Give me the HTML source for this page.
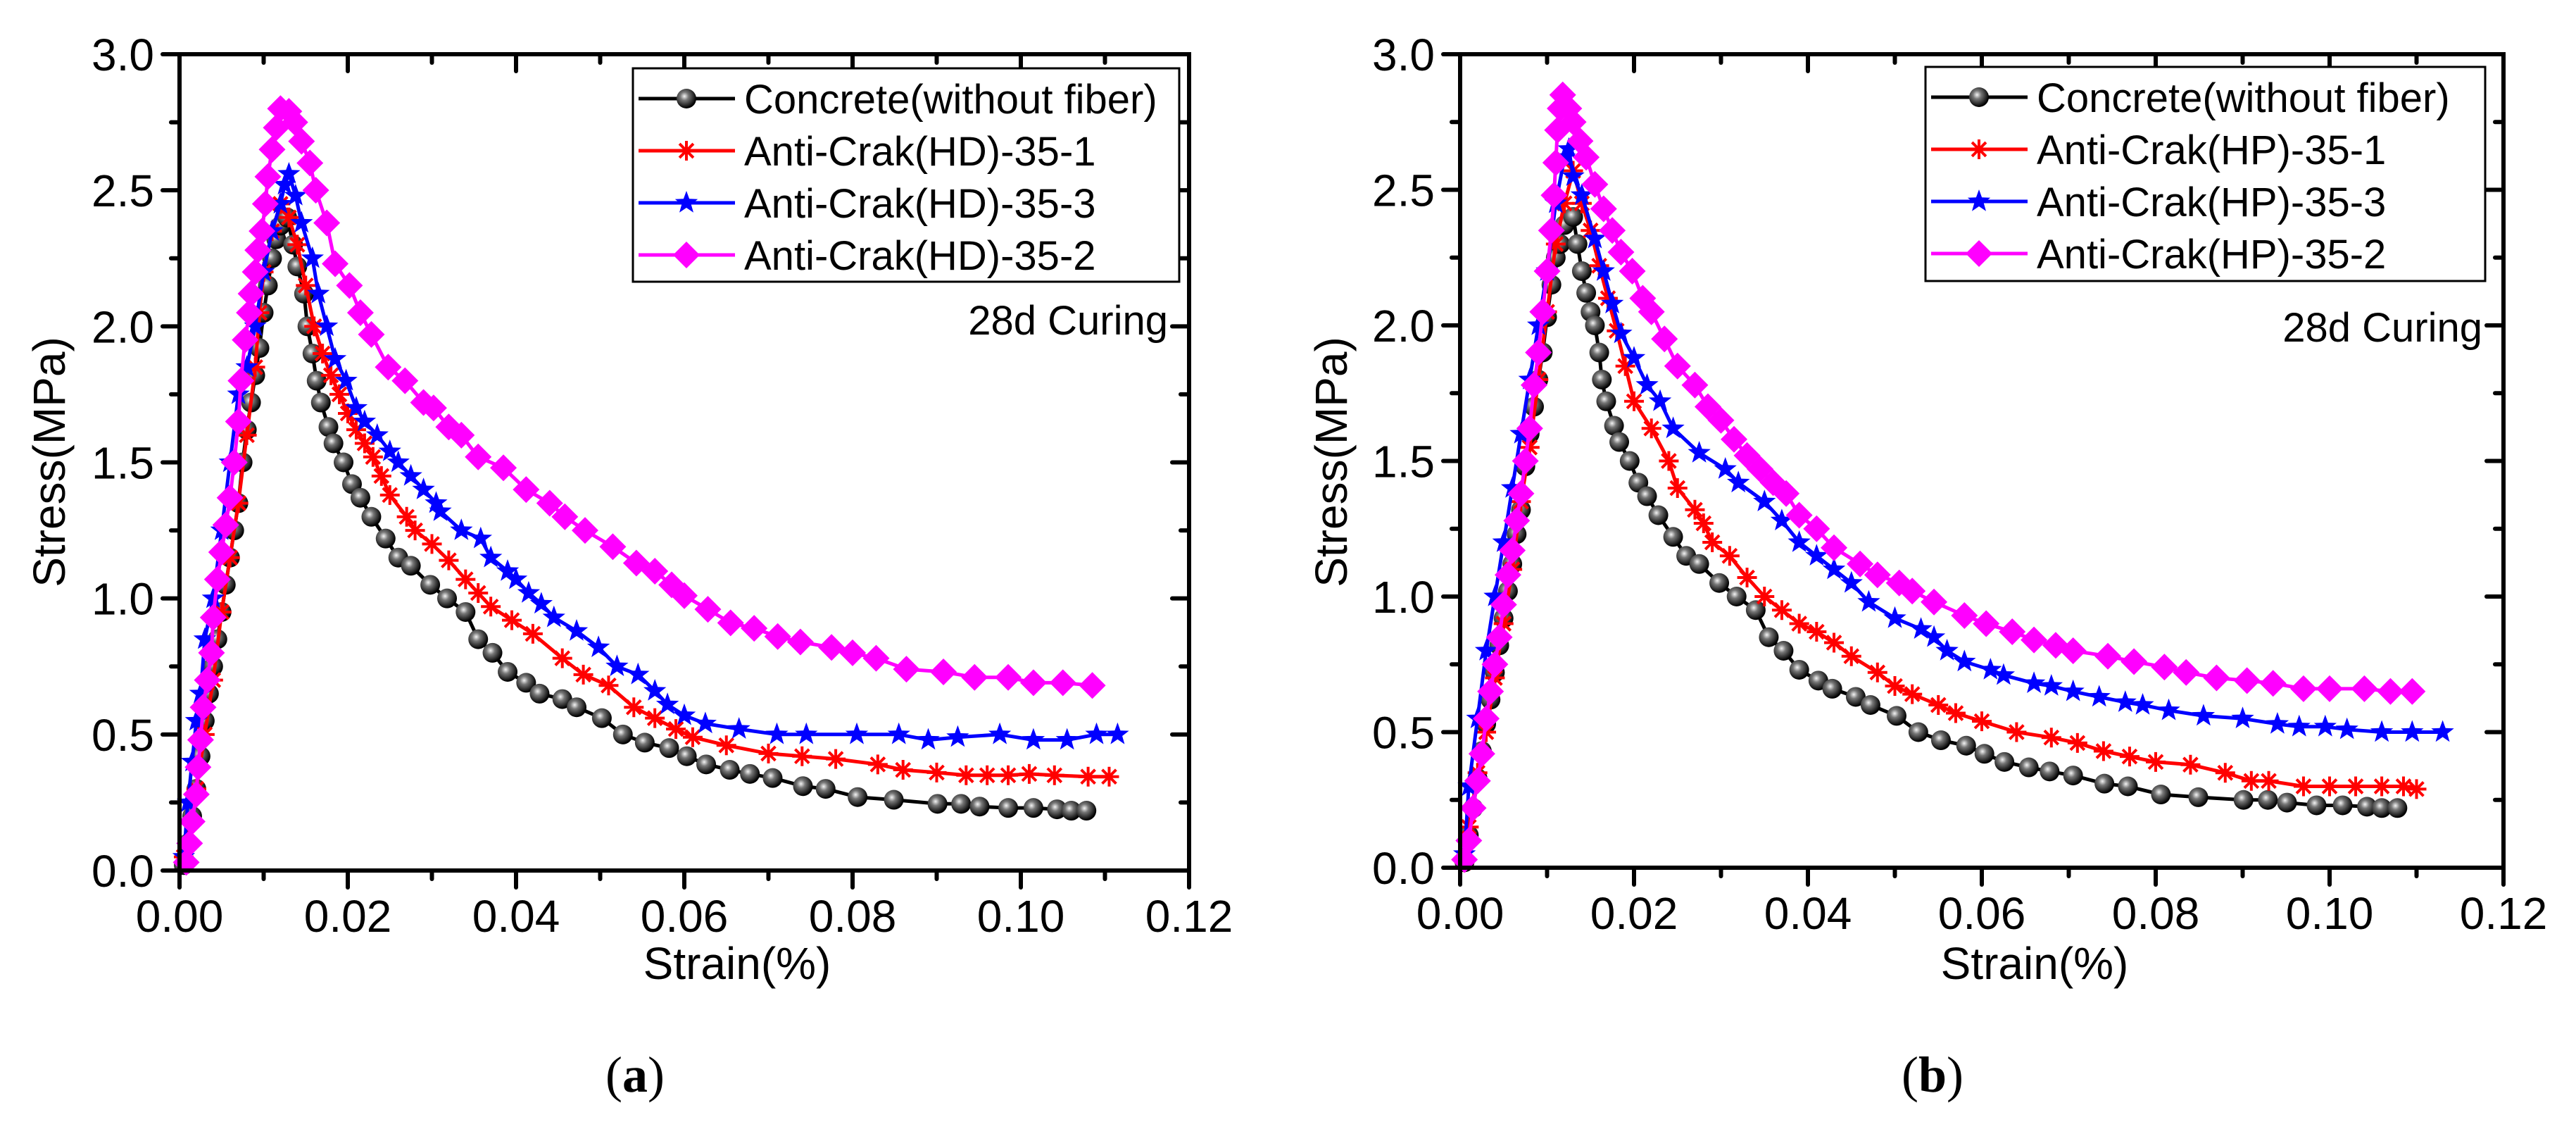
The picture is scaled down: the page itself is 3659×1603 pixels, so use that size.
<!DOCTYPE html>
<html><head><meta charset="utf-8"><style>
html,body{margin:0;padding:0;background:#fff;}
svg{display:block;font-family:"Liberation Sans",sans-serif;}
</style></head><body>
<svg id="fig" width="3659" height="1603" viewBox="0 0 3659 1603" xmlns="http://www.w3.org/2000/svg">
<defs>
<radialGradient id="sph" cx="0.4" cy="0.38" r="0.6">
<stop offset="0" stop-color="#f4f4f4"/><stop offset="0.35" stop-color="#777"/><stop offset="1" stop-color="#000"/>
</radialGradient>
</defs>
<g id="pa"></g>
<g id="pb"></g>
</svg>
<script>
const xTicks=[0,0.02,0.04,0.06,0.08,0.10,0.12];
const xTickLabels=["0.00","0.02","0.04","0.06","0.08","0.10","0.12"];
const yTicks=[0,0.5,1.0,1.5,2.0,2.5,3.0];
const yTickLabels=["0.0","0.5","1.0","1.5","2.0","2.5","3.0"];

const aConcrete=[[0.0005,0.02],[0.001,0.1],[0.0015,0.2],[0.002,0.3],[0.0025,0.42],[0.003,0.55],[0.0035,0.65],[0.004,0.75],[0.0045,0.85],[0.005,0.95],[0.0055,1.05],[0.006,1.15],[0.0065,1.25],[0.007,1.35],[0.0075,1.5],[0.008,1.62],[0.0085,1.72],[0.009,1.82],[0.0095,1.92],[0.01,2.05],[0.0105,2.15],[0.011,2.25],[0.0115,2.32],[0.012,2.37],[0.0128,2.4],[0.0135,2.3],[0.014,2.22],[0.0148,2.12],[0.0152,2.0],[0.0158,1.9],[0.0163,1.8],[0.0168,1.72],[0.0177,1.63],[0.0183,1.57],[0.0195,1.5],[0.0205,1.42],[0.0215,1.37],[0.0228,1.3],[0.0245,1.22],[0.026,1.15],[0.0275,1.12],[0.0298,1.05],[0.0318,1.0],[0.034,0.95],[0.0355,0.85],[0.0372,0.8],[0.039,0.73],[0.0412,0.69],[0.0428,0.65],[0.0455,0.63],[0.0472,0.6],[0.0502,0.56],[0.0527,0.5],[0.0553,0.47],[0.0582,0.45],[0.0603,0.42],[0.0626,0.39],[0.0654,0.37],[0.0678,0.355],[0.0705,0.34],[0.0741,0.31],[0.0768,0.3],[0.0806,0.27],[0.0849,0.26],[0.0901,0.245],[0.0929,0.245],[0.0951,0.235],[0.0985,0.23],[0.1015,0.23],[0.1043,0.225],[0.106,0.22],[0.1078,0.22]];
const aHD1=[[0.0005,0.05],[0.002,0.3],[0.003,0.5],[0.004,0.7],[0.005,0.95],[0.006,1.15],[0.007,1.35],[0.008,1.6],[0.009,1.85],[0.0095,2.05],[0.01,2.2],[0.011,2.35],[0.012,2.45],[0.013,2.4],[0.014,2.3],[0.015,2.15],[0.016,2.0],[0.017,1.9],[0.018,1.82],[0.019,1.75],[0.02,1.68],[0.021,1.62],[0.022,1.57],[0.023,1.52],[0.024,1.45],[0.025,1.38],[0.027,1.3],[0.028,1.25],[0.03,1.2],[0.032,1.14],[0.034,1.07],[0.0355,1.02],[0.037,0.97],[0.0395,0.92],[0.042,0.87],[0.0455,0.78],[0.048,0.72],[0.051,0.68],[0.054,0.6],[0.0565,0.56],[0.059,0.52],[0.061,0.49],[0.065,0.46],[0.07,0.43],[0.074,0.42],[0.078,0.41],[0.083,0.39],[0.086,0.37],[0.09,0.36],[0.0935,0.35],[0.096,0.35],[0.0985,0.35],[0.101,0.355],[0.104,0.35],[0.108,0.345],[0.1105,0.345]];
const aHD3=[[0.0005,0.05],[0.001,0.25],[0.0015,0.4],[0.002,0.55],[0.0025,0.65],[0.003,0.85],[0.004,1.0],[0.005,1.25],[0.006,1.5],[0.007,1.75],[0.008,1.85],[0.009,2.0],[0.01,2.2],[0.011,2.35],[0.012,2.45],[0.0125,2.52],[0.013,2.56],[0.0138,2.48],[0.0145,2.38],[0.0158,2.25],[0.0165,2.12],[0.0175,2.0],[0.0185,1.88],[0.0198,1.8],[0.021,1.7],[0.022,1.65],[0.0235,1.6],[0.025,1.54],[0.026,1.5],[0.0275,1.45],[0.029,1.4],[0.0305,1.35],[0.031,1.32],[0.0335,1.25],[0.0358,1.22],[0.037,1.15],[0.039,1.1],[0.04,1.07],[0.0415,1.02],[0.043,0.98],[0.0445,0.93],[0.0472,0.88],[0.0498,0.82],[0.052,0.75],[0.0545,0.72],[0.0565,0.66],[0.058,0.61],[0.06,0.57],[0.0625,0.54],[0.0665,0.52],[0.071,0.5],[0.0745,0.5],[0.0805,0.5],[0.0855,0.5],[0.089,0.48],[0.0925,0.49],[0.0975,0.5],[0.1015,0.48],[0.1055,0.48],[0.109,0.5],[0.1115,0.5]];
const aHD2=[[0.0008,0.03],[0.0012,0.1],[0.0015,0.18],[0.002,0.28],[0.0022,0.38],[0.0025,0.48],[0.0028,0.6],[0.0033,0.7],[0.0038,0.8],[0.004,0.93],[0.0045,1.07],[0.005,1.17],[0.0055,1.27],[0.006,1.37],[0.0065,1.5],[0.007,1.65],[0.0073,1.8],[0.0078,1.95],[0.0083,2.05],[0.0085,2.12],[0.009,2.2],[0.0093,2.28],[0.0098,2.35],[0.0102,2.45],[0.0105,2.55],[0.011,2.65],[0.0115,2.73],[0.012,2.8],[0.013,2.79],[0.0137,2.75],[0.0145,2.68],[0.0155,2.6],[0.0162,2.5],[0.0175,2.38],[0.0185,2.23],[0.0202,2.15],[0.0215,2.05],[0.0228,1.97],[0.0248,1.85],[0.0268,1.8],[0.029,1.72],[0.0302,1.7],[0.032,1.63],[0.0335,1.6],[0.0355,1.52],[0.0385,1.48],[0.0412,1.4],[0.044,1.35],[0.0458,1.3],[0.0482,1.25],[0.0515,1.19],[0.0543,1.13],[0.0565,1.1],[0.0585,1.05],[0.06,1.01],[0.0628,0.96],[0.0655,0.91],[0.0683,0.89],[0.0711,0.86],[0.0738,0.84],[0.0775,0.82],[0.08,0.8],[0.0828,0.78],[0.0864,0.74],[0.0908,0.73],[0.0945,0.71],[0.0985,0.71],[0.1015,0.69],[0.105,0.69],[0.1085,0.68]];

const bConcrete=[[0.0005,0.02],[0.001,0.12],[0.0015,0.22],[0.002,0.33],[0.0025,0.43],[0.003,0.53],[0.0035,0.62],[0.004,0.72],[0.0045,0.82],[0.005,0.92],[0.0055,1.02],[0.006,1.12],[0.0065,1.23],[0.007,1.32],[0.0075,1.48],[0.008,1.6],[0.0085,1.7],[0.009,1.8],[0.0095,1.9],[0.01,2.03],[0.0105,2.15],[0.011,2.25],[0.0115,2.3],[0.012,2.37],[0.013,2.4],[0.0135,2.3],[0.014,2.2],[0.0145,2.12],[0.015,2.05],[0.0155,2.0],[0.016,1.9],[0.0163,1.8],[0.0168,1.72],[0.0177,1.63],[0.0183,1.57],[0.0195,1.5],[0.0205,1.42],[0.0215,1.37],[0.0228,1.3],[0.0245,1.22],[0.026,1.15],[0.0275,1.12],[0.0298,1.05],[0.0318,1.0],[0.034,0.95],[0.0355,0.85],[0.0372,0.8],[0.039,0.73],[0.0412,0.69],[0.0428,0.66],[0.0455,0.63],[0.0472,0.6],[0.0502,0.56],[0.0527,0.5],[0.0553,0.47],[0.0582,0.45],[0.0603,0.42],[0.0626,0.39],[0.0654,0.37],[0.0678,0.355],[0.0705,0.34],[0.0741,0.31],[0.0768,0.3],[0.0806,0.27],[0.0849,0.26],[0.0901,0.25],[0.0929,0.25],[0.0951,0.24],[0.0985,0.23],[0.1015,0.23],[0.1043,0.225],[0.106,0.22],[0.1078,0.22]];
const bHP1=[[0.0005,0.02],[0.001,0.15],[0.002,0.35],[0.003,0.5],[0.004,0.7],[0.005,0.9],[0.006,1.1],[0.007,1.35],[0.008,1.55],[0.009,1.8],[0.01,2.05],[0.011,2.3],[0.012,2.45],[0.013,2.57],[0.014,2.45],[0.015,2.35],[0.016,2.22],[0.017,2.1],[0.018,1.98],[0.019,1.85],[0.02,1.72],[0.022,1.62],[0.024,1.5],[0.025,1.4],[0.027,1.32],[0.028,1.27],[0.029,1.2],[0.031,1.15],[0.033,1.07],[0.035,1.0],[0.037,0.95],[0.039,0.9],[0.041,0.87],[0.043,0.83],[0.045,0.78],[0.048,0.72],[0.05,0.67],[0.052,0.64],[0.055,0.6],[0.057,0.57],[0.06,0.54],[0.064,0.5],[0.068,0.48],[0.071,0.46],[0.074,0.43],[0.077,0.41],[0.08,0.39],[0.084,0.38],[0.088,0.35],[0.091,0.32],[0.093,0.32],[0.097,0.3],[0.1,0.3],[0.103,0.3],[0.106,0.3],[0.1085,0.3],[0.11,0.29]];
const bHP3=[[0.0005,0.05],[0.001,0.3],[0.002,0.55],[0.003,0.8],[0.004,1.0],[0.005,1.2],[0.006,1.4],[0.007,1.6],[0.008,1.8],[0.009,2.0],[0.01,2.2],[0.011,2.45],[0.012,2.62],[0.0125,2.65],[0.013,2.55],[0.014,2.48],[0.0155,2.32],[0.0165,2.2],[0.0175,2.08],[0.0185,1.97],[0.02,1.88],[0.0215,1.78],[0.023,1.72],[0.0245,1.62],[0.0275,1.53],[0.0305,1.47],[0.032,1.42],[0.035,1.35],[0.037,1.28],[0.039,1.2],[0.041,1.15],[0.043,1.1],[0.045,1.05],[0.047,0.98],[0.05,0.92],[0.053,0.88],[0.0545,0.85],[0.056,0.8],[0.058,0.76],[0.061,0.73],[0.0625,0.71],[0.066,0.68],[0.068,0.67],[0.0705,0.65],[0.0735,0.63],[0.0765,0.61],[0.0785,0.6],[0.0815,0.58],[0.0855,0.56],[0.09,0.55],[0.094,0.53],[0.0965,0.52],[0.0995,0.52],[0.102,0.51],[0.106,0.5],[0.1095,0.5],[0.113,0.5]];
const bHP2=[[0.0005,0.03],[0.001,0.1],[0.0015,0.22],[0.002,0.32],[0.0025,0.42],[0.003,0.55],[0.0035,0.65],[0.004,0.75],[0.0045,0.85],[0.005,0.97],[0.0055,1.08],[0.006,1.17],[0.0065,1.28],[0.007,1.38],[0.0075,1.5],[0.008,1.62],[0.0085,1.78],[0.009,1.9],[0.0095,2.05],[0.01,2.2],[0.0105,2.35],[0.0108,2.48],[0.011,2.6],[0.0112,2.72],[0.0115,2.8],[0.0118,2.85],[0.0125,2.8],[0.013,2.75],[0.0138,2.68],[0.0145,2.62],[0.0155,2.52],[0.0165,2.43],[0.0175,2.35],[0.0185,2.27],[0.0198,2.2],[0.021,2.1],[0.022,2.05],[0.0235,1.95],[0.025,1.85],[0.027,1.78],[0.0285,1.7],[0.03,1.65],[0.0315,1.58],[0.033,1.52],[0.0345,1.47],[0.036,1.42],[0.0375,1.38],[0.039,1.3],[0.041,1.25],[0.043,1.18],[0.046,1.12],[0.048,1.08],[0.0505,1.05],[0.052,1.02],[0.0545,0.98],[0.058,0.93],[0.0605,0.9],[0.0635,0.87],[0.066,0.84],[0.0685,0.82],[0.0705,0.8],[0.0745,0.78],[0.0775,0.76],[0.081,0.74],[0.0835,0.72],[0.087,0.7],[0.0905,0.69],[0.0935,0.68],[0.097,0.66],[0.1,0.66],[0.104,0.66],[0.107,0.65],[0.1095,0.65]];

const aNames=["Concrete(without fiber)","Anti-Crak(HD)-35-1","Anti-Crak(HD)-35-3","Anti-Crak(HD)-35-2"];
const bNames=["Concrete(without fiber)","Anti-Crak(HP)-35-1","Anti-Crak(HP)-35-3","Anti-Crak(HP)-35-2"];

const NS="http://www.w3.org/2000/svg";
function mk(tag,attrs,parent){const e=document.createElementNS(NS,tag);for(const k in attrs)e.setAttribute(k,attrs[k]);parent.appendChild(e);return e;}

function marker(g,kind,cx,cy,sc){
  let e;
  if(kind==="sphere"){e=mk("circle",{cx:cx,cy:cy,r:14*sc,fill:"url(#sph)"},g);}
  else if(kind==="asterisk"){const r=14*sc;let d="";for(let i=0;i<4;i++){const a=i*Math.PI/4;d+=`M${cx-r*Math.cos(a)},${cy-r*Math.sin(a)}L${cx+r*Math.cos(a)},${cy+r*Math.sin(a)}`;}
    e=mk("path",{d:d,stroke:"#ff0000","stroke-width":4,fill:"none"},g);}
  else if(kind==="star"){const R=17*sc,r=7*sc;let p=[];for(let i=0;i<10;i++){const a=-Math.PI/2+i*Math.PI/5;const rr=i%2?r:R;p.push((cx+rr*Math.cos(a)).toFixed(1)+","+(cy+rr*Math.sin(a)).toFixed(1));}
    e=mk("polygon",{points:p.join(" "),fill:"#0000ff"},g);}
  else {const r=19*sc;e=mk("polygon",{points:`${cx},${cy-r} ${cx+r},${cy} ${cx},${cy+r} ${cx-r},${cy}`,fill:"#ff00ff"},g);}
  return e;
}

function drawPanel(gid,P,seriesList,names,tag){
  const g=document.getElementById(gid);
  const X=v=>P.x0+(v-0)/(0.12-0)*(P.x1-P.x0);
  const Y=v=>P.y0-(v/3.0)*(P.y0-P.y1);
  const kinds=["sphere","asterisk","star","diamond"];
  const colors=["#000000","#ff0000","#0000ff","#ff00ff"];
  [0,1,2,3].forEach(i=>{
    const s=seriesList[i];
    const sg=mk("g",{},g);
    
    
    const d=s.map((p,j)=>(j?"L":"M")+X(p[0]).toFixed(1)+","+Y(p[1]).toFixed(1)).join("");
    mk("path",{d:d,stroke:colors[i],"stroke-width":5,fill:"none","stroke-linejoin":"round"},sg);
    s.forEach(p=>{const m=marker(sg,kinds[i],X(p[0]),Y(p[1]),1);
      
      });
  });
  const ax=mk("g",{},g);
  
  
  mk("rect",{x:P.x0,y:P.y1,width:P.x1-P.x0,height:P.y0-P.y1,fill:"none",stroke:"#000","stroke-width":6},ax);
  for(let k=0;k<=12;k++){const v=k*0.01;const x=X(v);const major=k%2===0;const L=major?24:12;
    mk("line",{x1:x,y1:P.y0,x2:x,y2:P.y0+L,stroke:"#000","stroke-width":6,"stroke-linecap":"round"},ax);
    mk("line",{x1:x,y1:P.y1,x2:x,y2:P.y1+L,stroke:"#000","stroke-width":6,"stroke-linecap":"round"},ax);}
  for(let k=0;k<=12;k++){const v=k*0.25;const y=Y(v);const major=k%2===0;const L=major?24:12;
    mk("line",{x1:P.x0,y1:y,x2:P.x0-L,y2:y,stroke:"#000","stroke-width":6,"stroke-linecap":"round"},ax);
    mk("line",{x1:P.x1,y1:y,x2:P.x1-L,y2:y,stroke:"#000","stroke-width":6,"stroke-linecap":"round"},ax);}
  xTicks.forEach((v,i)=>{const t=mk("text",{x:X(v),y:P.y0+87,"font-size":64,"text-anchor":"middle"},g);t.textContent=xTickLabels[i];
    
    });
  yTicks.forEach((v,i)=>{const t=mk("text",{x:P.x0-36,y:Y(v)+23,"font-size":64,"text-anchor":"end"},g);t.textContent=yTickLabels[i];
    
    });
  const xt=mk("text",{x:P.xtx,y:1390,"font-size":64,"text-anchor":"middle"},g);xt.textContent="Strain(%)";
  
  
  const yt=mk("text",{x:0,y:0,"font-size":64,"text-anchor":"middle",transform:`translate(${P.ytx},656) rotate(-90)`},g);yt.textContent="Stress(MPa)";
  
  
  const cu=mk("text",{x:P.x1-30,y:P.cury,"font-size":58,"text-anchor":"end"},g);cu.textContent="28d Curing";
  
  
  const lg=mk("g",{},g);
  
  
  mk("rect",{x:P.lx,y:P.ly,width:P.lw,height:P.lh,fill:"#fff",stroke:"#000","stroke-width":3},lg);
  names.forEach((n,i)=>{const cy=P.ly+43+i*74;
    const en=mk("g",{},lg);
    
    
    mk("line",{x1:P.lx+8,y1:cy,x2:P.lx+145,y2:cy,stroke:colors[i],"stroke-width":5},en);
    marker(en,kinds[i],P.lx+76,cy,1);
    const t=mk("text",{x:P.lx+158,y:cy+21,"font-size":58},en);t.textContent=n;});
  const tg=mk("text",{x:P.xtx-145,y:1550,"font-size":72,"font-family":"Liberation Serif, serif","text-anchor":"middle"},g);
  tg.innerHTML='(<tspan font-weight="bold">'+tag+'</tspan>)';
  
  
}
drawPanel("pa",{x0:255,x1:1689,y0:1236,y1:77,xtx:1047,ytx:92,cury:475,lx:899,ly:97,lw:776,lh:303},[aConcrete,aHD1,aHD3,aHD2],aNames,"a");
drawPanel("pb",{x0:2074,x1:3556,y0:1232,y1:77,xtx:2890,ytx:1913,cury:485,lx:2735,ly:95,lw:795,lh:304},[bConcrete,bHP1,bHP3,bHP2],bNames,"b");
</script>
</body></html>
